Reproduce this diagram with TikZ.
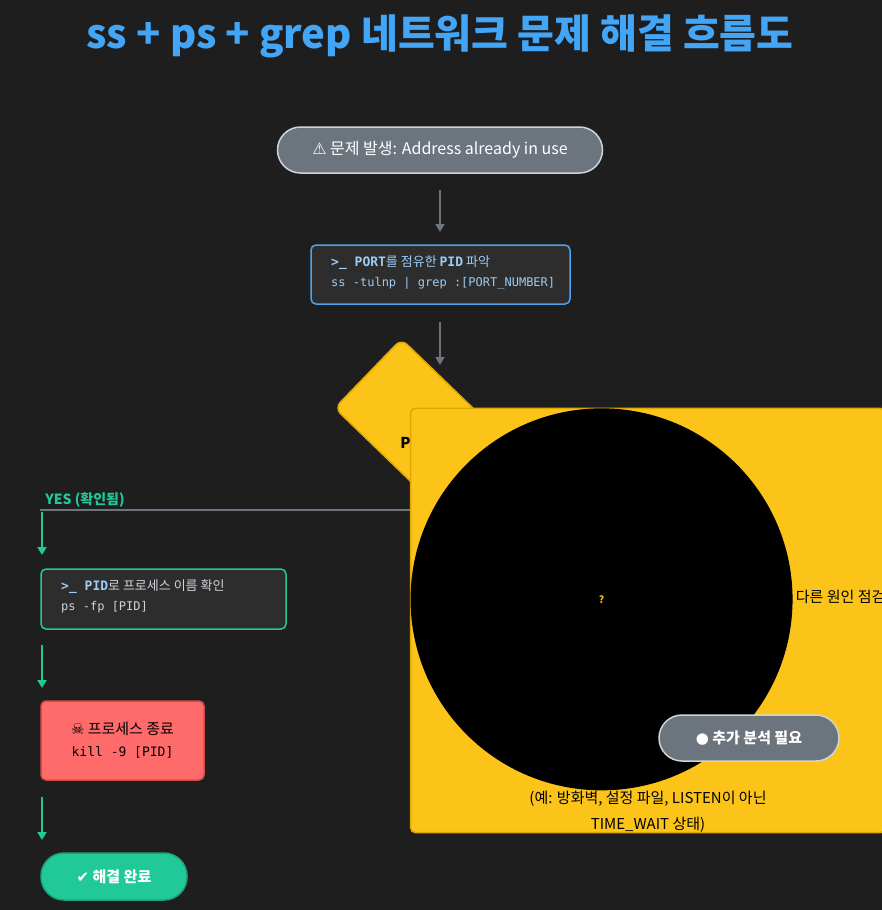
\documentclass[tikz,border=0pt]{standalone}
\usepackage{fontspec}
\setmainfont{Noto Sans CJK KR}
\newfontfamily\cjk{Noto Sans CJK KR}
\newfontfamily\djv{DejaVu Sans}
\newfontfamily\monof{DejaVu Sans Mono}
\usetikzlibrary{arrows.meta}
\definecolor{bg}{HTML}{1E1E1E}
\definecolor{ttl}{HTML}{42A5F5}
\definecolor{gry}{HTML}{6C757D}
\definecolor{gryb}{HTML}{CED4DA}
\definecolor{dk}{HTML}{2D2D2D}
\definecolor{blu}{HTML}{4DA3EE}
\definecolor{lblu}{HTML}{9CCBF5}
\definecolor{yel}{HTML}{FCC419}
\definecolor{yelb}{HTML}{E0A800}
\definecolor{red}{HTML}{FF6B6B}
\definecolor{redb}{HTML}{D94A4A}
\definecolor{grn}{HTML}{20C997}
\definecolor{grnb}{HTML}{1BA37D}
\newcommand{\qicon}{\tikz[baseline=-3.5pt]\node[circle,fill=black,inner sep=0.6pt,text=yel,font=\bfseries\fontsize{10}{10}\selectfont]{?};}
\begin{document}
\begin{tikzpicture}[x=1pt,y=-1pt,
  pill/.style={rounded corners=23pt,line width=1.5pt,inner sep=0pt},
  box/.style={rounded corners=5pt,line width=1.5pt,inner sep=0pt},
  garr/.style={-{Triangle[length=8pt,width=9pt]},line width=2pt,gry},
  grarr/.style={-{Triangle[length=8pt,width=9pt]},line width=2pt,grn},
  rarr/.style={-{Triangle[length=8pt,width=9pt]},line width=2pt,red}]
\fill[bg] (0,0) rectangle (882,910);
\useasboundingbox (0,0) rectangle (882,910);
\node (title) at (440,36) {\fontsize{40}{46}\selectfont\bfseries\color{ttl}ss + ps + grep 네트워크 문제 해결 흐름도};
\coordinate (hl) at (40,510); \coordinate (hr) at (838,510);
\draw[gry,line width=2pt] (hl) -- (hr);
\node[pill,draw=gryb,fill=gry,minimum width=325pt,minimum height=46pt] (start) at (440,150) {\fontsize{16}{20}\selectfont\color{white}{\djv ⚠} 문제 발생: Address already in use};
\node[box,draw=blu,fill=dk,minimum width=259pt,minimum height=59pt] (find) at (440.5,274.5) {};
\node[anchor=north west,align=left,inner sep=0pt,font=\fontsize{13}{19}\selectfont,text=lblu] (findt) at (331,256) {{\monof\bfseries >\_ PORT}{\cjk 를\ 점유한\ }{\monof\bfseries PID}{\cjk \ 파악}\\[1pt]{\monof\fontsize{12}{16}\selectfont ss -tulnp | grep :[PORT\_NUMBER]}};
\coordinate (a1) at (440,190);
\draw[garr] (a1) -- (440,232);
\draw[garr] (440,322) -- (440,365);
\node[box,rounded corners=8pt,draw=yelb,fill=yel,minimum width=200pt,minimum height=96pt,rotate=-44] (dec) at (440,443) {};
\node at (dec.center) {\fontsize{15}{18}\selectfont\bfseries PID 확인됨?};
\node[text=grn,font=\bfseries\fontsize{14}{16}\selectfont] (yes) at (85,500) {YES (확인됨)};
\node[text=red,font=\bfseries\fontsize{14}{16}\selectfont] (no) at (803,500) {NO (없음)};
\coordinate (ya) at (42,512); \coordinate (na) at (838,512);
\node[box,draw=grn,fill=dk,minimum width=245pt,minimum height=60pt] (ps) at (163.5,599) {};
\node[anchor=north west,align=left,inner sep=0pt,font=\fontsize{13}{19}\selectfont,text=gryb] (pst) at (61,579) {{\color{lblu}\monof\bfseries >\_ PID}{\cjk 로\ 프로세스\ 이름\ 확인}\\[1pt]{\monof\fontsize{12}{16}\selectfont ps -fp [PID]}};
\draw[grarr] (ya) -- (42,555);
\node[box,draw=redb,fill=red,minimum width=163pt,minimum height=79pt,align=center,font=\fontsize{15}{22}\selectfont] (kill) at (122.5,740.5) {{\djv ☠} 프로세스 종료\\{\monof\fontsize{13}{16}\selectfont kill -9 [PID]}};
\draw[grarr] (42,645) -- (42,688);
\draw[grarr] (42,797) -- (42,840);
\node[pill,draw=grnb,fill=grn,minimum width=146pt,minimum height=47pt] (done) at (114,876.5) {\fontsize{15}{20}\selectfont\bfseries\color{white}{\djv ✔} 해결 완료};
\draw[rarr] (na) -- (838,555);
\node[box,draw=yelb,fill=yel,minimum width=382pt,minimum height=103pt,align=center,font=\fontsize{15}{26}\selectfont] (other) at (648,620.5) {\qicon\ 다른 원인 점검\\(예: 방화벽, 설정 파일, LISTEN이 아닌\\TIME\_WAIT 상태)};
\draw[-{Triangle[length=6pt,width=8pt]},line width=1.5pt,yel] (840,689) -- (840,703);
\node[pill,draw=gryb,fill=gry,minimum width=180pt,minimum height=46pt] (more) at (749,738) {\fontsize{15}{20}\selectfont\bfseries\color{white}{\djv ●} 추가 분석 필요};
\end{tikzpicture}
\end{document}
